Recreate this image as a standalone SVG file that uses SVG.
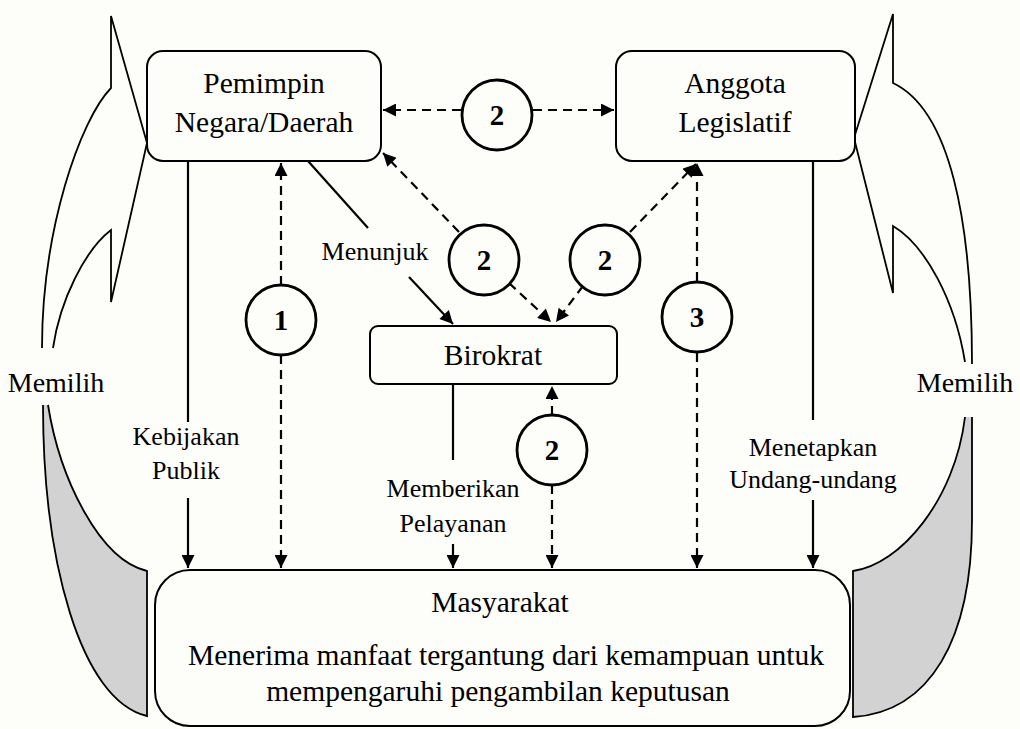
<svg xmlns="http://www.w3.org/2000/svg" width="1020" height="729" viewBox="0 0 1020 729">
  <defs>
    <marker id="arr" viewBox="0 0 10 10" refX="10" refY="5" markerUnits="userSpaceOnUse" markerWidth="16" markerHeight="13" orient="auto">
      <path d="M0,0 L10,5 L0,10 z" fill="#000"/>
    </marker>
    <style>
      .box { fill: #fdfdfa; stroke: #000; stroke-width: 2; }
      .ln { fill: none; stroke: #000; stroke-width: 2.2; }
      .ds { fill: none; stroke: #000; stroke-width: 2.2; stroke-dasharray: 9 6; }
      .circ { fill: #fdfdfa; stroke: #000; stroke-width: 2.8; }
      .side { fill: none; stroke: #000; stroke-width: 1.8; }
      .sideg { fill: #d2d2d2; stroke: #000; stroke-width: 1.8; }
      .t { font-family: "Liberation Serif", "Times New Roman", serif; fill: #000; text-anchor: middle; }
      .n { font-size: 29.5px; }
      .l { font-size: 26px; }
      .m { font-size: 28px; }
      .num { font-size: 29px; font-weight: bold; }
    </style>
  </defs>
  <rect width="1020" height="729" fill="#fdfdfa"/>

  <g id="side-left">
    <path class="side" d="M42,348 C42,230 80,120 111,88 L111,16 L147,143 L111,302 L111,230 C85,250 60,300 53,348"/>
    <path class="sideg" d="M48,405 C60,480 100,560 147,571 L147,716 C80,700 43,560 43,405"/>
    <text class="t m" x="56" y="392">Memilih</text>
  </g>
  <g id="side-right">
    <path class="side" d="M972,364 C972,220 950,110 893,83 L893,14 L854,138 L893,293 L893,226 C925,245 955,300 965,362"/>
    <path class="sideg" d="M965,417 C955,500 900,565 853,571 L853,717 C930,712 972,640 972,520 L972,417"/>
    <text class="t m" x="965" y="392">Memilih</text>
  </g>

  <g id="connectors">
    <path class="ln" d="M188,161 L188,422"/>
    <path class="ln" d="M188,498 L188,568" marker-end="url(#arr)"/>
    <path class="ds" d="M281,285 L281,163" marker-end="url(#arr)"/>
    <path class="ds" d="M281,355 L281,568" marker-end="url(#arr)"/>
    <path class="ln" d="M308,161 L368,228"/>
    <path class="ln" d="M409,277 L453,324" marker-end="url(#arr)"/>
    <path class="ds" d="M461,110 L383,110" marker-end="url(#arr)"/>
    <path class="ds" d="M533,110 L614,110" marker-end="url(#arr)"/>
    <path class="ds" d="M459,232 L383,153" marker-end="url(#arr)"/>
    <path class="ds" d="M509,283 L551,322" marker-end="url(#arr)"/>
    <path class="ds" d="M630,232 L696,164" marker-end="url(#arr)"/>
    <path class="ds" d="M583,286 L556,322" marker-end="url(#arr)"/>
    <path class="ds" d="M697,281 L697,163" marker-end="url(#arr)"/>
    <path class="ds" d="M697,353 L697,568" marker-end="url(#arr)"/>
    <path class="ln" d="M813,161 L813,420"/>
    <path class="ln" d="M813,500 L813,568" marker-end="url(#arr)"/>
    <path class="ln" d="M453,384 L453,460"/>
    <path class="ln" d="M453,544 L453,568" marker-end="url(#arr)"/>
    <path class="ds" d="M552,415 L552,386" marker-end="url(#arr)"/>
    <path class="ds" d="M552,485 L552,568" marker-end="url(#arr)"/>
    <text class="t l" x="186" y="445">Kebijakan</text>
    <text class="t l" x="186" y="479">Publik</text>
    <text class="t l" x="375" y="260">Menunjuk</text>
    <text class="t l" x="453" y="497">Memberikan</text>
    <text class="t l" x="453" y="532">Pelayanan</text>
    <text class="t l" x="813" y="456">Menetapkan</text>
    <text class="t l" x="813" y="488">Undang-undang</text>
  </g>

  <g id="node-pemimpin">
    <rect class="box" x="147" y="51" width="234" height="110" rx="16"/>
    <text class="t n" x="264" y="93">Pemimpin</text>
    <text class="t n" x="264" y="132">Negara/Daerah</text>
  </g>
  <g id="node-anggota">
    <rect class="box" x="616" y="51" width="239" height="110" rx="16"/>
    <text class="t n" x="735" y="93">Anggota</text>
    <text class="t n" x="735" y="132">Legislatif</text>
  </g>
  <g id="node-birokrat">
    <rect class="box" x="370" y="326" width="247" height="58" rx="8"/>
    <text class="t n" x="493" y="365">Birokrat</text>
  </g>
  <g id="node-masyarakat">
    <rect class="box" x="155" y="570" width="695" height="156" rx="35"/>
    <text class="t n" x="500" y="612">Masyarakat</text>
    <text class="t n" x="506" y="665">Menerima manfaat tergantung dari kemampuan untuk</text>
    <text class="t n" x="498" y="701">mempengaruhi pengambilan keputusan</text>
  </g>

  <g id="circle-top-2"><circle class="circ" cx="497" cy="115" r="35"/><text class="t num" x="497" y="125">2</text></g>
  <g id="circle-1"><circle class="circ" cx="281" cy="320" r="35"/><text class="t num" x="281" y="330">1</text></g>
  <g id="circle-left-2"><circle class="circ" cx="484" cy="260" r="35"/><text class="t num" x="484" y="270">2</text></g>
  <g id="circle-right-2"><circle class="circ" cx="605" cy="260" r="35"/><text class="t num" x="605" y="270">2</text></g>
  <g id="circle-3"><circle class="circ" cx="697" cy="317" r="35"/><text class="t num" x="697" y="327">3</text></g>
  <g id="circle-bottom-2"><circle class="circ" cx="552" cy="450" r="35"/><text class="t num" x="552" y="460">2</text></g>
</svg>
